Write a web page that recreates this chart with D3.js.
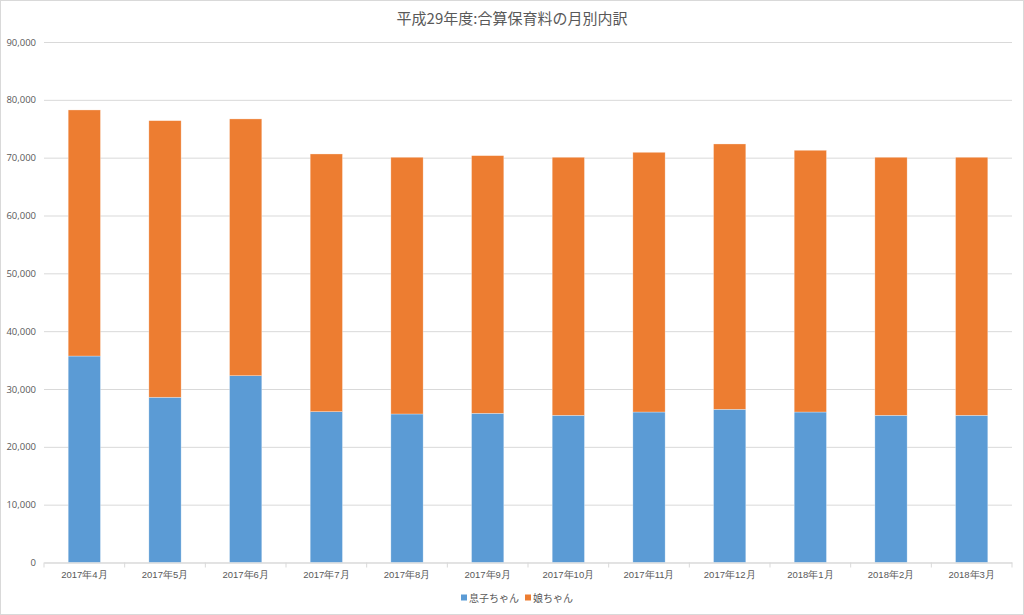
<!DOCTYPE html>
<html>
<head>
<meta charset="utf-8">
<script src="https://cdn.jsdelivr.net/npm/d3@7"></script>
<style>
  body { margin: 0; background: #fff; }
  svg { display: block; font-family: "Noto Sans CJK JP", "Noto Sans", sans-serif; }
</style>
</head>
<body>
<div id="chart"></div>
<script>
///// Data

let months = ["2017年4月", "2017年5月", "2017年6月", "2017年7月", "2017年8月", "2017年9月",
    "2017年10月", "2017年11月", "2017年12月", "2018年1月", "2018年2月", "2018年3月"];
let seriesNames = ["息子ちゃん", "娘ちゃん"];
let sonValues = [35700, 28570, 32300, 26080, 25680, 25800, 25450, 26020, 26490, 26020, 25450, 25450];
let daughterValues = [42550, 47830, 44400, 44560, 44390, 44550, 44620, 44910, 45880, 45260, 44620, 44620];
let yTicks = [0, 10000, 20000, 30000, 40000, 50000, 60000, 70000, 80000, 90000];
let colors = ["#5b9bd5", "#ed7d31"];

///// Layout

let W = 1024, H = 615;
let margin = { top: 42, right: 12, bottom: 52.5, left: 44 };
let width = W - margin.left - margin.right,
    height = H - margin.top - margin.bottom;

let x = d3.scaleBand().domain(months).range([0, width]).padding(0);
let y = d3.scaleLinear().domain([0, 90000]).range([height, 0]);
let barW = x.bandwidth() * 0.4;

let svg = d3.select("#chart").append("svg")
    .attr("width", W)
    .attr("height", H);

// outer border
svg.append("rect")
    .attr("x", 0.5).attr("y", 0.5)
    .attr("width", W - 1).attr("height", H - 1)
    .attr("fill", "#fff")
    .attr("stroke", "#d9d9d9");

// title
svg.append("text")
    .attr("x", W / 2)
    .attr("y", 24)
    .attr("text-anchor", "middle")
    .attr("fill", "#595959")
    .style("font-size", "15px")
    .text("平成29年度:合算保育料の月別内訳");

let g = svg.append("g")
    .attr("transform", "translate(" + margin.left + "," + margin.top + ")");

// gridlines + y labels
let yAxis = g.append("g")
    .call(d3.axisLeft(y).tickValues(yTicks).tickSize(-width).tickFormat(d3.format(",")));
yAxis.select(".domain").remove();
yAxis.selectAll(".tick line").attr("stroke", "#d9d9d9");
yAxis.selectAll(".tick text")
    .attr("x", -8)
    .attr("fill", "#595959")
    .style("font-size", "9.5px")
    .style("font-family", "'Open Sans', sans-serif");

// stacked bars
let stackData = months.map(function(m, i) {
    return { month: m, son: sonValues[i], daughter: daughterValues[i] };
});
let stacked = d3.stack().keys(["son", "daughter"])(stackData);

g.selectAll(".series")
    .data(stacked)
    .enter().append("g")
    .attr("class", "series")
    .attr("fill", function(d, i) { return colors[i]; })
    .selectAll("rect")
    .data(function(d) { return d; })
    .enter().append("rect")
    .attr("x", function(d) { return x(d.data.month) + (x.bandwidth() - barW) / 2; })
    .attr("y", function(d) { return y(d[1]); })
    .attr("width", barW)
    .attr("height", function(d) { return y(d[0]) - y(d[1]); })
    .attr("stroke", "#fff")
    .attr("stroke-opacity", 0.5)
    .attr("stroke-width", 0.6);

// x axis
let xAxis = g.append("g")
    .attr("transform", "translate(0," + height + ")")
    .call(d3.axisBottom(x).tickSize(0).tickPadding(9));
xAxis.select(".domain").attr("stroke", "#d9d9d9");
xAxis.selectAll(".tick text")
    .attr("fill", "#595959")
    .style("font-size", "9.5px");

// category boundary ticks
g.append("g")
    .selectAll("line")
    .data(months.concat(["end"]))
    .enter().append("line")
    .attr("x1", function(d, i) { return i * x.step(); })
    .attr("x2", function(d, i) { return i * x.step(); })
    .attr("y1", height)
    .attr("y2", height + 5)
    .attr("stroke", "#d9d9d9");

// legend
let legend = svg.append("g")
    .attr("transform", "translate(461,598)");
let legendItems = legend.selectAll(".item")
    .data(seriesNames)
    .enter().append("g")
    .attr("transform", function(d, i) { return "translate(" + (i * 64) + ",0)"; });
legendItems.append("rect")
    .attr("x", 0).attr("y", -3.5)
    .attr("width", 6).attr("height", 6)
    .attr("fill", function(d, i) { return colors[i]; });
legendItems.append("text")
    .attr("x", 8)
    .attr("y", 0)
    .attr("dy", "0.35em")
    .attr("fill", "#595959")
    .style("font-size", "10px")
    .text(function(d) { return d; });
</script>
</body>
</html>
